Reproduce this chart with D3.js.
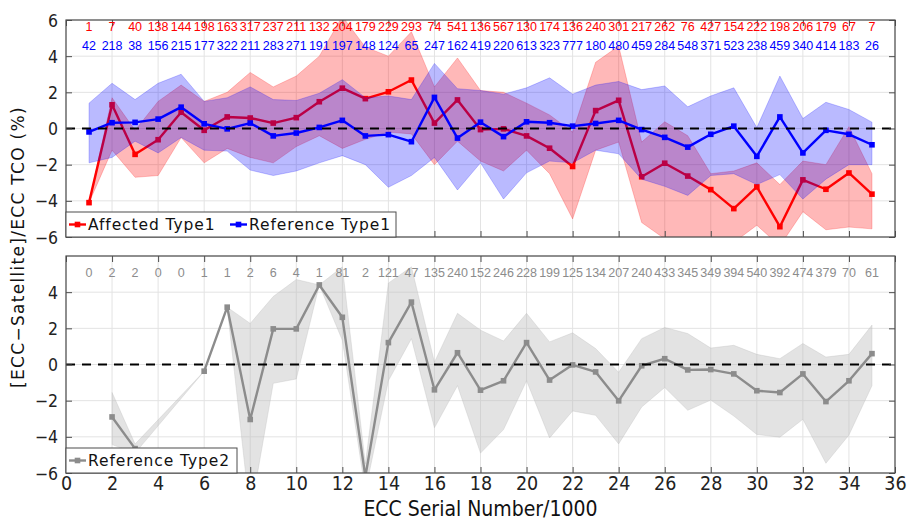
<!DOCTYPE html>
<html lang="en">
<head>
<meta charset="UTF-8">
<title>ECC vs Satellite</title>
<script src="https://d3js.org/d3.v7.min.js"></script>
<style>
  body { margin: 0; background: white; }
  svg { display: block; }
</style>
</head>
<body>
<svg></svg>
<script>
// serial number bins (x1000)
var serials = d3.range(1, 36);

// sample counts shown on top of each panel
var affCount = [1,7,40,138,144,198,163,317,237,211,132,204,179,229,293,74,541,136,567,130,174,136,240,301,217,262,76,427,154,222,198,206,179,67,7];
var ref1Count = [42,218,38,156,215,177,322,211,283,271,191,197,148,124,65,247,162,419,220,613,323,777,180,480,459,284,548,371,523,238,459,340,414,183,26];
var ref2Count = [0,2,2,0,0,1,1,2,6,4,1,81,2,121,47,135,240,152,246,228,199,125,134,207,240,433,345,349,394,540,392,474,379,70,61];

// Affected Type1 : mean and band
var affMean = [-4.1,1.31,-1.43,-0.62,0.9,-0.1,0.64,0.58,0.3,0.6,1.48,2.23,1.65,2.03,2.68,0.3,1.58,-0.06,-0.02,-0.41,-1.09,-2.1,0.99,1.56,-2.67,-1.92,-2.63,-3.38,-4.43,-3.23,-5.43,-2.84,-3.36,-2.46,-3.63];
var affHi = [-4.1,1.7,-0.1,1.5,2.4,1.5,2.0,3.1,2.3,2.9,4.0,6.2,4.5,4.0,5.35,2.3,3.9,2.1,2.0,1.4,0.75,-0.2,3.66,4.56,-0.75,0.37,-0.4,-2.5,-2.35,-1.9,-3.1,-1.8,-2.0,0.1,-2.5];
var affLo = [-4.1,-1.2,-2.7,-2.6,-0.5,-1.9,-1.1,-1.6,-1.9,-1.0,-0.4,-1.1,-0.6,-0.2,-0.3,-2.0,-0.7,-1.8,-2.35,-1.2,-2.5,-5.0,-1.2,-0.75,-5.2,-6.1,-6.5,-6.2,-6.3,-5.35,-6.5,-4.6,-5.6,-5.45,-5.55];

// Reference Type1
var ref1Mean = [-0.19,0.32,0.34,0.52,1.18,0.26,-0.02,0.3,-0.41,-0.25,0.06,0.45,-0.41,-0.34,-0.73,1.72,-0.53,0.35,-0.45,0.37,0.32,0.13,0.28,0.45,-0.06,-0.49,-1.03,-0.32,0.13,-1.54,0.64,-1.35,-0.1,-0.32,-0.9];
var ref1Hi = [1.4,2.5,1.6,2.5,3.0,1.5,1.7,2.3,1.6,1.55,1.95,2.7,1.7,1.8,1.6,3.6,2.2,2.1,1.9,2.25,2.8,1.9,2.4,2.6,2.15,2.35,1.2,1.8,2.25,0.05,2.9,0.55,1.45,1.05,0.35];
var ref1Lo = [-1.9,-1.6,-0.7,-1.35,-0.5,-1.2,-1.25,-2.3,-2.6,-2.35,-1.9,-1.5,-2.0,-3.25,-2.6,-1.6,-3.4,-1.9,-3.9,-2.45,-1.8,-1.9,-1.2,-1.4,-2.8,-3.2,-3.7,-2.6,-2.5,-3.1,-2.55,-3.9,-2.8,-2.0,-2.0];

// Reference Type2 (null where no sample)
var ref2Mean = [null,-2.9,-4.65,null,null,-0.37,3.17,-3.04,1.97,1.97,4.4,2.61,-6.2,1.21,3.45,-1.4,0.65,-1.42,-0.9,1.21,-0.86,-0.02,-0.41,-2.01,-0.07,0.32,-0.3,-0.28,-0.52,-1.45,-1.55,-0.52,-2.05,-0.9,0.6];
var ref2Hi = [null,-1.55,-4.4,null,null,-0.37,3.17,2.27,3.76,4.7,4.4,5.4,-5.5,4.5,5.4,0.13,2.83,1.9,1.3,2.83,1.25,1.75,0.88,-0.43,1.43,2.05,1.71,0.91,1.06,0.56,0.32,1.16,0.41,0.56,2.18];
var ref2Lo = [null,-4.43,-4.9,null,null,-0.37,3.17,-8.3,-1.04,-0.8,4.4,1.34,-7.0,-0.9,1.43,-3.5,-1.17,-4.9,-3.6,-0.9,-4.06,-2.57,-2.81,-4.39,-2.35,-1.27,-2.53,-1.97,-2.85,-3.87,-4.02,-3.03,-5.46,-3.9,-1.17];

var xTicks = d3.range(0, 37, 2);
var yTicksTop = [-6,-4,-2,0,2,4,6];
var yTicksBottom = [-6,-4,-2,0,2,4];

var width = 910, height = 523;
var svg = d3.select("svg").attr("width", width).attr("height", height);
var defs = svg.append("defs");

var left = 66, right = 895;
var x = d3.scaleLinear().domain([0, 36]).range([left, right]);

var tickFont = "'Liberation Sans Narrow', 'DejaVu Sans Condensed', 'Liberation Sans', sans-serif";
var frameColor = "#4d4d4d";

function makePanel(id, top, bottom, yTicks, showX) {
    var y = d3.scaleLinear().domain([-6, 6]).range([bottom, top]);
    var g = svg.append("g");

    defs.append("clipPath").attr("id", id)
        .append("rect").attr("x", left).attr("y", top)
        .attr("width", right - left).attr("height", bottom - top);

    // grid
    g.append("g").selectAll("line.gx").data(xTicks).enter().append("line")
        .attr("x1", d => x(d)).attr("x2", d => x(d))
        .attr("y1", top).attr("y2", bottom)
        .attr("stroke", "#e3e3e3").attr("stroke-width", 1);
    g.append("g").selectAll("line.gy").data([-6,-4,-2,0,2,4,6]).enter().append("line")
        .attr("x1", left).attr("x2", right)
        .attr("y1", d => y(d)).attr("y2", d => y(d))
        .attr("stroke", "#e3e3e3").attr("stroke-width", 1);

    var plot = g.append("g").attr("clip-path", "url(#" + id + ")");

    // axes with inward ticks
    var xb = d3.axisBottom(x).tickValues(xTicks).tickSize(-6).tickFormat(showX ? d3.format("d") : "");
    var xt = d3.axisTop(x).tickValues(xTicks).tickSize(-6).tickFormat("");
    var yl = d3.axisLeft(y).tickValues(yTicks).tickSize(-6).tickPadding(8)
        .tickFormat(d => d < 0 ? "\u2212" + Math.abs(d) : d);
    var yr = d3.axisRight(y).tickValues(yTicks).tickSize(-6).tickFormat("");

    var axes = svg.append("g");
    var ab = axes.append("g").attr("transform", "translate(0," + bottom + ")").call(xb);
    axes.append("g").attr("transform", "translate(0," + top + ")").call(xt);
    var al = axes.append("g").attr("transform", "translate(" + left + ",0)").call(yl);
    axes.append("g").attr("transform", "translate(" + right + ",0)").call(yr);
    axes.selectAll(".domain").remove();
    axes.selectAll(".tick line").attr("stroke", frameColor);
    axes.selectAll("text").attr("font-family", tickFont).attr("fill", "#222");
    al.selectAll("text").attr("font-size", 17.5).attr("dy", "0.35em");
    ab.selectAll("text").attr("font-size", 19.5).attr("dy", "0.72em");

    axes.append("rect").attr("x", left).attr("y", top)
        .attr("width", right - left).attr("height", bottom - top)
        .attr("fill", "none").attr("stroke", frameColor).attr("stroke-width", 1.2);

    return {y: y, plot: plot, g: g, axes: axes};
}

var p1 = makePanel("clipTop", 20, 237, yTicksTop, false);
var p2 = makePanel("clipBottom", 256, 473, yTicksBottom, true);

function rows(mean, hi, lo) {
    return serials.map(function(s, i) {
        return {x: s, v: mean[i], hi: hi[i], lo: lo[i]};
    });
}

function drawSeries(panel, data, bandColor, bandOpacity, lineColor) {
    var y = panel.y;
    var valid = data.filter(d => d.v != null);
    var area = d3.area().x(d => x(d.x)).y0(d => y(d.lo)).y1(d => y(d.hi));
    panel.plot.append("path").datum(valid)
        .attr("d", area)
        .attr("fill", bandColor).attr("fill-opacity", bandOpacity)
        .attr("stroke", bandColor).attr("stroke-opacity", bandOpacity).attr("stroke-width", 0.8);
    var line = d3.line().defined(d => d.v != null).x(d => x(d.x)).y(d => y(d.v));
    panel.plot.append("path").datum(data)
        .attr("d", line)
        .attr("fill", "none").attr("stroke", lineColor).attr("stroke-width", 2.4)
        .attr("stroke-linejoin", "round");
    panel.plot.append("g").selectAll("rect").data(valid).enter().append("rect")
        .attr("x", d => x(d.x) - 2.8).attr("y", d => y(d.v) - 2.8)
        .attr("width", 5.6).attr("height", 5.6)
        .attr("fill", lineColor);
}

// top panel: affected first, then reference band over it
drawSeries(p1, rows(affMean, affHi, affLo), "#ff0000", 0.28, "#ff0000");
drawSeries(p1, rows(ref1Mean, ref1Hi, ref1Lo), "#0000ff", 0.27, "#0000ff");
drawSeries(p2, rows(ref2Mean, ref2Hi, ref2Lo), "#bdbdbd", 0.42, "#8c8c8c");

// zero dashed lines
[p1, p2].forEach(function(p) {
    p.plot.append("line")
        .attr("x1", left).attr("x2", right)
        .attr("y1", p.y(0)).attr("y2", p.y(0))
        .attr("stroke", "black").attr("stroke-width", 2.2)
        .attr("stroke-dasharray", "9,7");
});

// counts
var countFont = "'Liberation Sans', Arial, sans-serif";
function drawCounts(counts, yPos, color) {
    svg.append("g").selectAll("text").data(counts).enter().append("text")
        .attr("x", (d, i) => x(serials[i]))
        .attr("y", yPos)
        .attr("text-anchor", "middle")
        .attr("font-family", countFont).attr("font-size", 12.5)
        .attr("fill", color)
        .text(d => d);
}
drawCounts(affCount, 31, "#ff0000");
drawCounts(ref1Count, 50, "#0000ff");
drawCounts(ref2Count, 277, "#8c8c8c");

// legends
var legendFont = "'DejaVu Sans', sans-serif";
function legend(top, entries, boxWidth) {
    var lg = svg.append("g");
    lg.append("rect").attr("x", left).attr("y", top).attr("width", boxWidth).attr("height", 25)
        .attr("fill", "white").attr("stroke", frameColor).attr("stroke-width", 1);
    entries.forEach(function(e) {
        var cy = top + 12.5;
        lg.append("line").attr("x1", e.x).attr("x2", e.x + 17).attr("y1", cy).attr("y2", cy)
            .attr("stroke", e.color).attr("stroke-width", 2.4);
        lg.append("rect").attr("x", e.x + 8.5 - 2.8).attr("y", cy - 2.8)
            .attr("width", 5.6).attr("height", 5.6).attr("fill", e.color);
        lg.append("text").attr("x", e.x + 19).attr("y", cy).attr("dy", "0.36em")
            .attr("font-family", legendFont).attr("font-size", 15.5)
            .attr("letter-spacing", 0.9).attr("fill", "#111")
            .text(e.label);
    });
}
legend(212, [
    {x: 69, color: "#ff0000", label: "Affected Type1"},
    {x: 230, color: "#0000ff", label: "Reference Type1"}
], 330);
legend(448, [
    {x: 69, color: "#8c8c8c", label: "Reference Type2"}
], 171);

// axis titles
svg.append("text")
    .attr("x", x(18)).attr("y", 516)
    .attr("text-anchor", "middle")
    .attr("font-family", tickFont).attr("font-size", 21)
    .attr("fill", "#111")
    .text("ECC Serial Number/1000");

svg.append("text")
    .attr("transform", "translate(24,247) rotate(-90)")
    .attr("text-anchor", "middle")
    .attr("font-family", legendFont).attr("font-size", 17)
    .attr("letter-spacing", 1.3)
    .attr("fill", "#111")
    .text("[ECC\u2212Satellite]/ECC TCO (%)");
</script>
</body>
</html>
